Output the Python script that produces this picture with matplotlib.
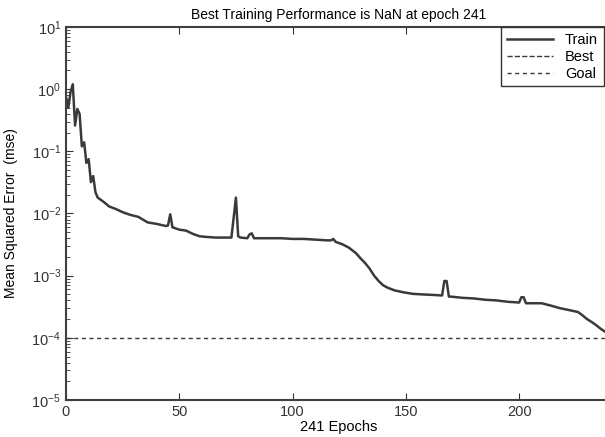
import numpy as np
import matplotlib
matplotlib.use('Agg')
import matplotlib.pyplot as plt
from matplotlib.ticker import NullFormatter

plt.rcParams['font.family'] = ['Liberation Sans', 'DejaVu Sans']

# datos
epocas = [0, 1, 2, 3, 4, 5, 6, 7, 8, 9, 10, 11, 12, 13, 14, 15, 17, 19, 22, 25,
          28, 32, 36, 40, 44, 45, 46, 47, 50, 53, 56, 59, 62, 66, 70, 73, 74, 75,
          76, 77, 80, 81, 82, 83, 86, 90, 95, 100, 105, 110, 115, 117, 118, 119,
          122, 125, 128, 130, 132, 134, 136, 138, 140, 142, 145, 149, 153, 157,
          162, 166, 167, 168, 169, 170, 175, 180, 185, 190, 195, 200, 201, 202,
          203, 206, 210, 214, 218, 222, 226, 228, 230, 232, 234, 236, 238, 240, 241]
mse = [0.75, 0.5, 0.9, 1.2, 0.26, 0.48, 0.4, 0.12, 0.14, 0.065, 0.075, 0.032,
       0.04, 0.022, 0.018, 0.017, 0.015, 0.013, 0.0118, 0.0105, 0.0096, 0.0088,
       0.0072, 0.0068, 0.0063, 0.0064, 0.0097, 0.006, 0.0055, 0.0053, 0.0047,
       0.0043, 0.0042, 0.0041, 0.0041, 0.0041, 0.0085, 0.018, 0.0043, 0.0041,
       0.004, 0.0046, 0.0048, 0.004, 0.004, 0.004, 0.004, 0.0039, 0.0039, 0.0038,
       0.0037, 0.0037, 0.0039, 0.0035, 0.0032, 0.0028, 0.0023, 0.0019, 0.0016,
       0.0013, 0.001, 0.00082, 0.0007, 0.00064, 0.00058, 0.00054, 0.00051,
       0.0005, 0.00049, 0.00048, 0.00082, 0.00082, 0.00046, 0.00046, 0.00044,
       0.00043, 0.00041, 0.0004, 0.00038, 0.00037, 0.00045, 0.00045, 0.00036,
       0.00036, 0.00036, 0.00033, 0.0003, 0.00028, 0.00026, 0.00023, 0.0002,
       0.00018, 0.00016, 0.00014, 0.000125, 0.00011, 0.000105]
meta = 1e-4
total_epocas = 241
xticks = [0, 50, 100, 150, 200]

fig = plt.figure(figsize=(6.05, 4.37), dpi=100)
ax = fig.add_axes([66 / 605, 37 / 437, 546 / 605, 373 / 437])

ax.plot(epocas, mse, color='#3a3a3a', linewidth=1.8, label='Train')
ax.plot([], [], color='#3a3a3a', linestyle='--', linewidth=1, label='Best')
ax.axhline(meta, color='#3a3a3a', linestyle=(0, (3, 2.5)), linewidth=1, label='Goal')

ax.set_yscale('log')
ax.set_ylim(1e-5, 1e1)
ax.set_xlim(0, total_epocas)
ax.set_xticks(xticks)
ax.yaxis.set_minor_formatter(NullFormatter())
ax.tick_params(which='both', direction='in', top=True, right=True,
               labelsize=10.5, colors='#333333')
ax.tick_params(which='major', length=5)
ax.tick_params(which='minor', length=3)
for s in ax.spines.values():
    s.set_linewidth(1.5)
    s.set_color('#404040')

ax.set_title('Best Training Performance is NaN at epoch 241', fontsize=10, pad=6)
ax.set_xlabel('241 Epochs', fontsize=10.5, labelpad=1)
ax.set_ylabel('Mean Squared Error  (mse)', fontsize=10, labelpad=10)

leg = ax.legend(loc='upper right', bbox_to_anchor=(0.985, 1.0), fontsize=10.5,
                fancybox=False, edgecolor='#333333', framealpha=1,
                borderaxespad=0, handlelength=3.2, labelspacing=0.2)
leg.get_frame().set_linewidth(1)

fig.savefig('out.png', dpi=100)
